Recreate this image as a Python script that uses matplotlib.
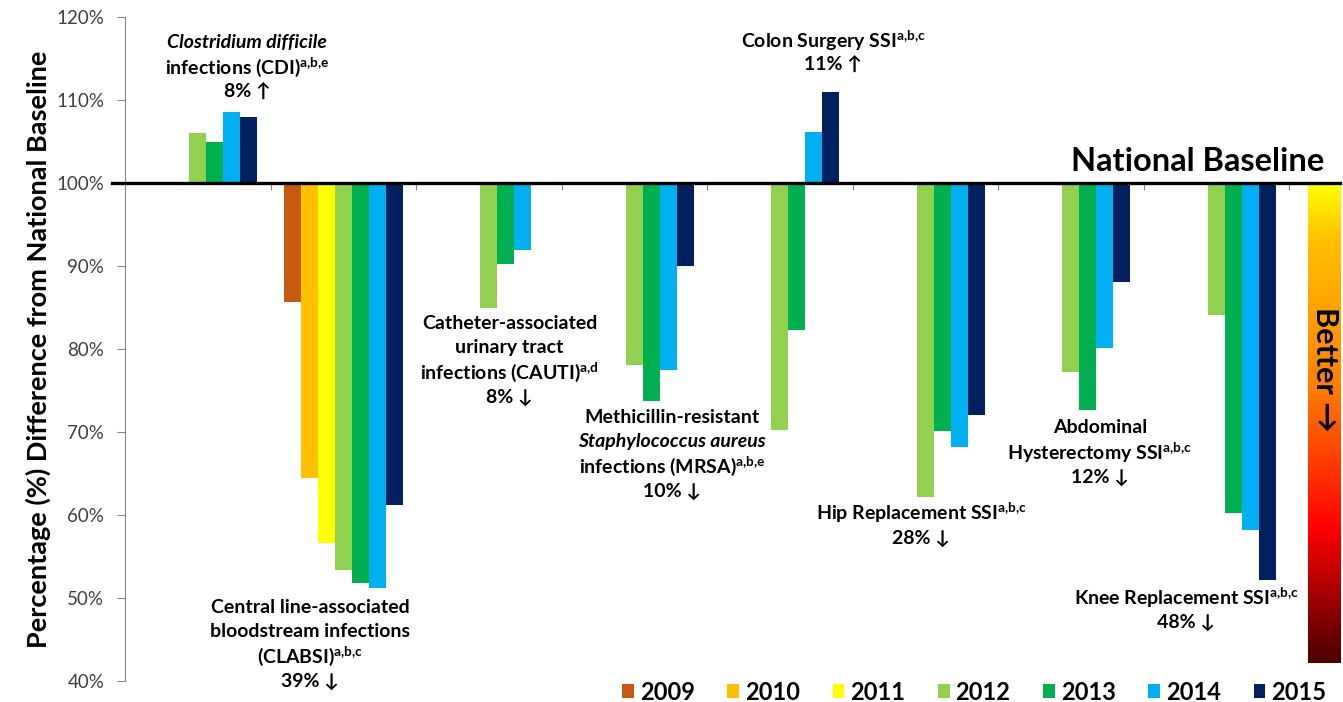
import numpy as np
import matplotlib
matplotlib.use("Agg")
import matplotlib.pyplot as plt
from matplotlib.colors import LinearSegmentedColormap

plt.rcParams['font.family'] = ['Lato', 'DejaVu Sans']
plt.rcParams['mathtext.fontset'] = 'custom'
plt.rcParams['mathtext.rm'] = 'Lato'
plt.rcParams['mathtext.bf'] = 'Lato:bold'
plt.rcParams['mathtext.it'] = 'Lato:italic'

nan = np.nan

# categories: CDI, CLABSI, CAUTI, MRSA, Colon, Hip, Hysterectomy, Knee
categories = ['CDI', 'CLABSI', 'CAUTI', 'MRSA', 'Colon', 'Hip', 'Hyst', 'Knee']
years = ['2009', '2010', '2011', '2012', '2013', '2014', '2015']
colors = ['#C55A11', '#FFC000', '#FFFF00', '#92D050', '#00B050', '#00B0F0', '#002060']

y2009 = [nan, 85.7, nan, nan, nan, nan, nan, nan]
y2010 = [nan, 64.5, nan, nan, nan, nan, nan, nan]
y2011 = [nan, 56.6, nan, nan, nan, nan, nan, nan]
y2012 = [106.0, 53.4, 84.9, 78.1, 70.2, 62.2, 77.2, 84.1]
y2013 = [104.9, 51.8, 90.3, 73.7, 82.3, 70.1, 72.6, 60.2]
y2014 = [108.5, 51.2, 91.9, 77.5, 106.1, 68.2, 80.1, 58.2]
y2015 = [108.0, 61.2, nan, 90.0, 111.0, 72.1, 88.1, 52.2]
series = [y2009, y2010, y2011, y2012, y2013, y2014, y2015]

baseline = 100

fig = plt.figure(figsize=(13.43, 7.02), dpi=100)
ax = fig.add_axes([125 / 1343, 1 - 681 / 702, 1215 / 1343, 664 / 702])

bar_w = 0.117
x = np.arange(len(categories))
for k, (yr, vals, c) in enumerate(zip(years, series, colors)):
    vals = np.array(vals)
    ok = ~np.isnan(vals)
    ax.bar(x[ok] + 0.5 + (k - 3) * bar_w, vals[ok] - baseline, bottom=baseline,
           width=bar_w, color=c, label=yr, zorder=2)

# national baseline line
ax.plot([-0.011, 1.0], [baseline, baseline], color='black', lw=2.4,
        transform=ax.get_yaxis_transform(), clip_on=False, zorder=4)
ax.text(8.24, 100.9, 'National Baseline', ha='right', va='bottom',
        fontsize=23.5, fontweight='bold')

# "better" gradient bar
cmap = LinearSegmentedColormap.from_list('better', [
    (0.0, '#FFFF00'), (0.12, '#FFC000'), (0.42, '#FF8000'),
    (0.72, '#FF0000'), (1.0, '#4A0000')])
grad = np.linspace(0, 1, 256).reshape(-1, 1)
ax.imshow(grad, extent=(8.13, 8.35, 42.2, baseline), aspect='auto', cmap=cmap,
          origin='upper', zorder=1)
ax.text(8.245, 77.5, 'Better →', rotation=-90, ha='center', va='center',
        fontsize=22, fontweight='bold')

# group annotations
def label(cx, cy, lines, step=2.97, size=14):
    for j, ln in enumerate(lines):
        if isinstance(ln, tuple):
            ax.text(cx, cy - j * step, ln[0], ha='center', va='center',
                    fontsize=size, fontweight='bold', style='italic')
        else:
            ax.text(cx, cy - j * step, ln, ha='center', va='center',
                    fontsize=size, fontweight='bold')

label(0.838, 116.9, [('Clostridium difficile',), r'infections (CDI)$^{\mathbf{a{,}b{,}e}}$', '8% ↑'])
label(1.271, 48.9, ['Central line-associated', 'bloodstream infections',
                    r'(CLABSI)$^{\mathbf{a{,}b{,}c}}$', '39% ↓'])
label(2.643, 83.1, ['Catheter-associated', 'urinary tract',
                    r'infections (CAUTI)$^{\mathbf{a{,}d}}$', '8% ↓'])
label(3.759, 71.8, ['Methicillin-resistant', ('Staphylococcus aureus',),
                    r'infections (MRSA)$^{\mathbf{a{,}b{,}e}}$', '10% ↓'])
label(4.866, 117.1, [r'Colon Surgery SSI$^{\mathbf{a{,}b{,}c}}$', '11% ↑'])
label(5.471, 60.2, [r'Hip Replacement SSI$^{\mathbf{a{,}b{,}c}}$', '28% ↓'])
label(6.701, 70.5, ['Abdominal', r'Hysterectomy SSI$^{\mathbf{a{,}b{,}c}}$', '12% ↓'])
label(7.292, 50.0, [r'Knee Replacement SSI$^{\mathbf{a{,}b{,}c}}$', '48% ↓'])

# axes styling
ax.set_xlim(0, 8.35)
ax.set_ylim(40, 120)
ax.set_yticks(np.arange(40, 121, 10))
ax.set_yticklabels([f'{v}%' for v in range(40, 121, 10)])
ax.set_xticks(np.arange(0, 9))
ax.set_xticklabels([])
ax.spines['bottom'].set_position(('data', baseline))
ax.spines['bottom'].set_visible(False)
ax.spines['top'].set_visible(False)
ax.spines['right'].set_visible(False)
ax.spines['left'].set_color('#868686')
ax.tick_params(axis='y', colors='#868686', labelcolor='#404040', labelsize=13.5,
               length=6, width=0.8, pad=9)
ax.tick_params(axis='x', colors='#868686', length=5, width=0.8)
ax.set_ylabel('Percentage (%) Difference from National Baseline', fontsize=19.5,
              fontweight='bold', labelpad=4)

leg = fig.legend(loc='center left', bbox_to_anchor=(622 / 1343, 1 - 692 / 702),
                 ncol=7, frameon=False, prop={'weight': 'bold', 'size': 17},
                 handlelength=0.5, handleheight=0.5, handletextpad=0.25,
                 columnspacing=1.38, borderpad=0, borderaxespad=0)

fig.savefig('out.png', dpi=100)
